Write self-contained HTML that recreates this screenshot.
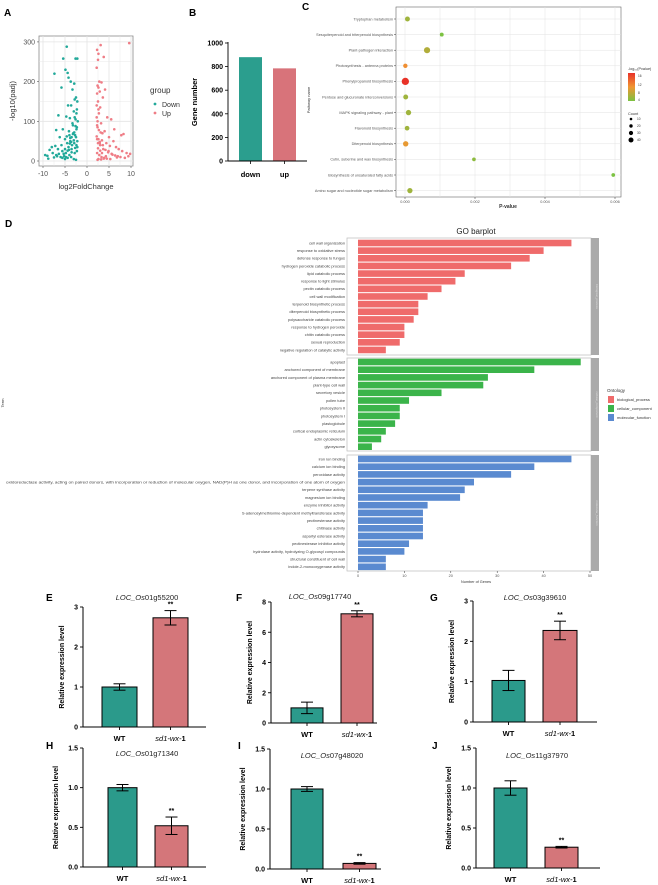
<!DOCTYPE html>
<html><head><meta charset="utf-8"><style>
html,body{margin:0;padding:0;background:#fff}
svg{display:block}
text{font-family:"Liberation Sans",Arial,sans-serif}
</style></head><body>
<svg id="fig" width="658" height="885" viewBox="0 0 658 885" xmlns="http://www.w3.org/2000/svg">
<g id="gA"></g>
<g id="gB"></g>
<g id="gC"></g>
<g id="gD"></g>
<g id="gE"></g>
</svg>
<script>
// ---------- Panel A data ----------
const downX=[-4.6,-5.4,-2.6,-2.2,-7.4,-4.9,-4.4,-4.2,-3.7,-2.9,-5.8,-3.3,-2.5,-2.8,-3.6,-4.3,-2.3,-3.0,-6.5,-4.7,-3.9,-2.6,-7.0,-5.5,-4.1,-2.4,-3.2,-6.2,-5.0,-3.5,-2.7,-8.0,-7.2,-6.6,-5.8,-4.5,-3.8,-9.5,-9.0,-8.5,-7.8,-7.0,-6.4,-5.6,-5.0,-4.2,-3.4,-2.9,-2.2,-6.0,-5.2,-4.4,-3.6,-2.8,-2.3,-3.0,-4.0,-5.0,-2.5,-3.5,-4.8,-2.1,-2.4,-3.1,-2.2,-2.6,-3.3,-4.0,-4.6,-3.8,-2.9,-2.4,-3.5,-4.1,-2.7,-5.3,-6.8,-7.5,-8.8,-2.2,-2.5,-3.0,-3.9,-4.4,-2.3,-2.8,-3.2,-3.6,-4.8,-5.6];
const downY=[288,258,258,258,220,230,222,210,200,195,185,180,160,155,140,140,130,125,115,112,108,105,78,80,75,80,90,60,55,60,65,35,38,30,40,45,50,15,13,28,20,15,18,25,30,35,40,45,50,10,12,8,10,20,25,5,15,5,3,30,20,100,120,70,150,88,95,65,62,58,72,40,22,28,33,18,12,9,6,35,60,52,44,26,85,110,68,48,10,8];
const upX=[3.1,9.6,2.3,2.6,2.5,3.8,2.2,2.8,3.3,2.4,4.1,2.6,2.9,2.3,3.6,2.5,2.2,3.0,4.6,2.7,5.5,2.4,3.2,6.2,2.3,4.0,3.5,7.8,8.3,5.0,6.0,2.6,2.9,3.4,4.4,5.2,6.6,7.2,8.0,9.0,9.8,2.2,2.5,3.0,3.7,4.2,4.8,5.6,6.4,7.0,7.6,8.6,9.4,2.3,2.8,3.3,3.9,4.5,5.3,2.4,2.7,3.1,2.2,2.6,3.6,4.9,5.8,6.8,2.5,3.0,3.4,2.3,2.9,4.3,2.4,2.6,3.2,3.8];
const upY=[292,297,280,270,255,262,235,200,198,190,180,185,175,170,160,150,140,135,110,120,105,100,95,80,90,75,70,65,68,60,50,55,48,52,45,38,35,30,25,20,18,62,45,40,30,28,22,18,14,12,10,8,12,20,15,10,8,6,5,85,78,72,110,130,40,25,16,9,32,26,20,55,45,12,3,5,4,6];

// ---------- Panel B data ----------
const bCats=["down","up"];
const bVals=[880,785];
const bTicks=[0,200,400,600,800,1000];

// ---------- Panel C data ----------
const cPathways=["Tryptophan metabolism","Sesquiterpenoid and triterpenoid biosynthesis","Plant-pathogen interaction","Photosynthesis - antenna proteins","Phenylpropanoid biosynthesis","Pentose and glucuronate interconversions","MAPK signaling pathway - plant","Flavonoid biosynthesis","Diterpenoid biosynthesis","Cutin, suberine and wax biosynthesis","Biosynthesis of unsaturated fatty acids","Amino sugar and nucleotide sugar metabolism"];
const cPvals=[0.00007,0.00105,0.00063,0.00001,0.00001,0.00002,0.0001,0.00006,0.00002,0.00197,0.00595,0.00014];
const cCounts=[12,5,25,8,40,12,16,10,16,4,4,15];
const cLogP=[5,3,6,10,16,5,5,5,9,4,3,5];
const cXTicks=[0,0.002,0.004,0.006];
const cXTickLabels=["0.000","0.002","0.004","0.006"];

// ---------- Panel D data ----------
const bpTerms=["cell wall organization","response to oxidative stress","defense response to fungus","hydrogen peroxide catabolic process","lipid catabolic process","response to light stimulus","pectin catabolic process","cell wall modification","terpenoid biosynthetic process","diterpenoid biosynthetic process","polysaccharide catabolic process","response to hydrogen peroxide","chitin catabolic process","sexual reproduction","negative regulation of catalytic activity"];
const bpVals=[46,40,37,33,23,21,18,15,13,13,12,10,10,9,6];
const ccTerms=["apoplast","anchored component of membrane","anchored component of plasma membrane","plant-type cell wall","secretory vesicle","pollen tube","photosystem II","photosystem I","plastoglobule","cortical endoplasmic reticulum","actin cytoskeleton","glyoxysome"];
const ccVals=[48,38,28,27,18,11,9,9,8,6,5,3];
const mfTerms=["iron ion binding","calcium ion binding","peroxidase activity","oxidoreductase activity, acting on paired donors, with incorporation or reduction of molecular oxygen, NAD(P)H as one donor, and incorporation of one atom of oxygen","terpene synthase activity","magnesium ion binding","enzyme inhibitor activity","S-adenosylmethionine-dependent methyltransferase activity","pectinesterase activity","chitinase activity","aspartyl esterase activity","pectinesterase inhibitor activity","hydrolase activity, hydrolyzing O-glycosyl compounds","structural constituent of cell wall","indole-2-monooxygenase activity"];
const mfVals=[46,38,33,25,23,22,15,14,14,14,14,11,10,6,6];
const dTicks=[0,10,20,30,40,50];

// ---------- Panels E-J data ----------
const qGenes=["01g55200","09g17740","03g39610","01g71340","07g48020","11g37970"];
const qLetters=["E","F","G","H","I","J"];
const qWT=[1.0,1.0,1.03,1.0,1.0,1.0];
const qWTErr=[0.08,0.38,0.25,0.04,0.03,0.09];
const qMut=[2.73,7.22,2.27,0.52,0.07,0.26];
const qMutErr=[0.18,0.2,0.23,0.11,0.01,0.01];
const qMax=[3,8,3,1.5,1.5,1.5];
const qTicks=[[0,1,2,3],[0,2,4,6,8],[0,1,2,3],[0,0.5,1,1.5],[0,0.5,1,1.5],[0,0.5,1,1.5]];

const NS="http://www.w3.org/2000/svg";
function mk(parent,tag,attrs,txt){const e=document.createElementNS(NS,tag);for(const k in attrs)e.setAttribute(k,attrs[k]);if(txt!==undefined)e.textContent=txt;parent.appendChild(e);return e;}

// ===== Panel A =====
(function(){
const g=document.getElementById('gA');
const X=v=>87+v*4.4, Y=v=>161-v*0.397;
let t=mk(g,'text',{x:4,y:16,'font-size':10,'font-weight':'bold'},'A');


mk(g,'rect',{x:39,y:36,width:94,height:130,fill:'#fff',stroke:'#8a8a8a','stroke-width':0.8});
[-10,-7.5,-5,-2.5,0,2.5,5,7.5,10].forEach(v=>mk(g,'line',{x1:X(v),x2:X(v),y1:36,y2:166,stroke:'#e4e4e4','stroke-width':v%5===0?0.8:0.4}));
[0,50,100,150,200,250,300].forEach(v=>mk(g,'line',{x1:39,x2:133,y1:Y(v),y2:Y(v),stroke:'#e4e4e4','stroke-width':v%100===0?0.8:0.4}));
downX.forEach((v,i)=>{const c=mk(g,'circle',{cx:X(v),cy:Y(downY[i]),r:1.3,fill:'#22a99a'});

});
upX.forEach((v,i)=>{const c=mk(g,'circle',{cx:X(v),cy:Y(upY[i]),r:1.3,fill:'#ef7d86'});

});
[-10,-5,0,5,10].forEach(v=>{mk(g,'line',{x1:X(v),x2:X(v),y1:166,y2:168,stroke:'#555','stroke-width':0.6});mk(g,'text',{x:X(v),y:176,'font-size':7,'text-anchor':'middle',fill:'#555'},String(v));});
[0,100,200,300].forEach(v=>{mk(g,'line',{x1:37,x2:39,y1:Y(v),y2:Y(v),stroke:'#555','stroke-width':0.6});mk(g,'text',{x:35,y:Y(v)+2.5,'font-size':7,'text-anchor':'end',fill:'#555'},String(v));});
t=mk(g,'text',{x:86,y:189,'font-size':7.5,'text-anchor':'middle',fill:'#333'},'log2FoldChange');


t=mk(g,'text',{x:0,y:0,'font-size':7.5,'text-anchor':'middle',fill:'#333',transform:'translate(15,101) rotate(-90)'},'-log10(padj)');


mk(g,'text',{x:150,y:93,'font-size':8,fill:'#333'},'group');
mk(g,'circle',{cx:155,cy:104,r:1.4,fill:'#22a99a'});
mk(g,'text',{x:162,y:107,'font-size':7,fill:'#333'},'Down');
mk(g,'circle',{cx:155,cy:113,r:1.4,fill:'#ef7d86'});
mk(g,'text',{x:162,y:116,'font-size':7,fill:'#333'},'Up');
})();

// ===== Panel B =====
(function(){
const g=document.getElementById('gB');
const Y=v=>161-v*0.118;
const bx=[239,273], bw=23, cols=['#2b9e8e','#d8737a'];
let t=mk(g,'text',{x:189,y:16,'font-size':10,'font-weight':'bold'},'B');


bVals.forEach((v,i)=>{const r=mk(g,'rect',{x:bx[i],y:Y(v),width:bw,height:161-Y(v),fill:cols[i]});


mk(g,'line',{x1:bx[i]+bw/2,x2:bx[i]+bw/2,y1:161,y2:164,stroke:'#000','stroke-width':0.8});
mk(g,'text',{x:bx[i]+bw/2,y:177,'font-size':7.5,'font-weight':'bold','text-anchor':'middle'},bCats[i]);});
mk(g,'line',{x1:228,x2:228,y1:42,y2:161,stroke:'#000','stroke-width':0.9});
mk(g,'line',{x1:228,x2:307,y1:161,y2:161,stroke:'#000','stroke-width':0.9});
bTicks.forEach(v=>{mk(g,'line',{x1:225,x2:228,y1:Y(v),y2:Y(v),stroke:'#000','stroke-width':0.8});mk(g,'text',{x:223,y:Y(v)+2.5,'font-size':7,'font-weight':'bold','text-anchor':'end'},String(v));});
t=mk(g,'text',{x:0,y:0,'font-size':7.5,'font-weight':'bold','text-anchor':'middle',transform:'translate(197,102) rotate(-90)'},'Gene number');


})();

// ===== Panel C =====
(function(){
const g=document.getElementById('gC');
const X=p=>405+p/0.006*210, Y=i=>19+i*15.6;
let t=mk(g,'text',{x:302,y:10,'font-size':10,'font-weight':'bold'},'C');


mk(g,'rect',{x:396,y:7,width:225,height:190,fill:'#fff',stroke:'#666','stroke-width':0.6});
[0,0.001,0.002,0.003,0.004,0.005,0.006].forEach(v=>mk(g,'line',{x1:X(v),x2:X(v),y1:7,y2:197,stroke:'#e2e2e2','stroke-width':0.5}));
cPathways.forEach((p,i)=>{mk(g,'line',{x1:396,x2:621,y1:Y(i),y2:Y(i),stroke:'#e2e2e2','stroke-width':0.5});
mk(g,'line',{x1:394,x2:396,y1:Y(i),y2:Y(i),stroke:'#333','stroke-width':0.5});
mk(g,'text',{x:393,y:Y(i)+1.3,'font-size':3.8,'text-anchor':'end',fill:'#555'},p);});
function col(v){const t=Math.min(1,Math.max(0,(v-3)/13));let r,gg,b;if(t<0.5){const s=t/0.5;r=124+(240-124)*s;gg=194+(150-194)*s;b=66+(50-66)*s;}else{const s=(t-0.5)/0.5;r=240+(232-240)*s;gg=150+(50-150)*s;b=50+(40-50)*s;}return `rgb(${r|0},${gg|0},${b|0})`;}
cPvals.forEach((p,i)=>{const c=mk(g,'circle',{cx:X(p),cy:Y(i),r:1+Math.sqrt(cCounts[i])*0.42,fill:col(cLogP[i])});

});
cXTicks.forEach((v,i)=>{mk(g,'line',{x1:X(v),x2:X(v),y1:197,y2:199,stroke:'#333','stroke-width':0.5});mk(g,'text',{x:X(v),y:203,'font-size':3.8,'text-anchor':'middle',fill:'#555'},cXTickLabels[i]);});
mk(g,'text',{x:508,y:208,'font-size':5,'font-weight':'bold','text-anchor':'middle',fill:'#333'},'P-value');
mk(g,'text',{x:0,y:0,'font-size':4,'text-anchor':'middle',fill:'#333',transform:'translate(310,100) rotate(-90)'},'Pathway name');
const gr=mk(g,'defs',{});const lg=mk(gr,'linearGradient',{id:'cgrad',x1:0,y1:0,x2:0,y2:1});
mk(lg,'stop',{offset:'0',"stop-color":'#e8322a'});mk(lg,'stop',{offset:'0.5',"stop-color":'#f09632'});mk(lg,'stop',{offset:'1',"stop-color":'#7cc242'});
mk(g,'text',{x:628,y:70,'font-size':3.8,fill:'#333'},'-log\u2081\u2080(Pvalue)');
mk(g,'rect',{x:628,y:73,width:7,height:28,fill:'url(#cgrad)'});
[['16',76],['12',85],['8',93],['4',100]].forEach(a=>mk(g,'text',{x:638,y:a[1]+1,'font-size':3.2,fill:'#333'},a[0]));
mk(g,'text',{x:628,y:115,'font-size':3.8,fill:'#333'},'Count');
[[10,1.3,119],[20,1.7,126],[30,2.1,133],[40,2.5,140]].forEach(a=>{mk(g,'circle',{cx:631,cy:a[2],r:a[1],fill:'#000'});mk(g,'text',{x:637,y:a[2]+1.2,'font-size':3.2,fill:'#333'},String(a[0]));});
})();

// ===== Panel D =====
(function(){
const g=document.getElementById('gD');
const X=v=>358+v*4.64;
let t=mk(g,'text',{x:5,y:227,'font-size':10,'font-weight':'bold'},'D');


t=mk(g,'text',{x:476,y:234,'font-size':8,'text-anchor':'middle',fill:'#222'},'GO barplot');


const facets=[[bpTerms,bpVals,238,355,243,7.64,'#ef6b6b','biological_process'],[ccTerms,ccVals,358,451,362,7.7,'#3bb44a','cellular_component'],[mfTerms,mfVals,455,571,459,7.7,'#5a8ad0','molecular_function']];
facets.forEach(f=>{const [terms,vals,y0,y1,r0,sp,c,name]=f;
mk(g,'rect',{x:347,y:y0,width:244,height:y1-y0,fill:'#fff',stroke:'#bbb','stroke-width':0.7});
mk(g,'rect',{x:591,y:y0,width:8,height:y1-y0,fill:'#aaa'});
mk(g,'text',{x:0,y:0,'font-size':3,'text-anchor':'middle',fill:'#ddd',transform:`translate(596,${(y0+y1)/2}) rotate(90)`},name);
terms.forEach((term,i)=>{const y=r0+i*sp;
const r=mk(g,'rect',{x:X(0),y:y-3.3,width:X(vals[i])-X(0),height:6.6,fill:c});


const a={x:345,y:y+1.4,'font-size':3.9,'text-anchor':'end',fill:'#444'};
if(term.length>100){a.textLength=339;a.lengthAdjust='spacingAndGlyphs';}
mk(g,'text',a,term);});});
dTicks.forEach(v=>{mk(g,'line',{x1:X(v),x2:X(v),y1:571,y2:573,stroke:'#333','stroke-width':0.5});mk(g,'text',{x:X(v),y:577,'font-size':3.8,'text-anchor':'middle',fill:'#555'},String(v));});
mk(g,'text',{x:476,y:583,'font-size':3.8,'text-anchor':'middle',fill:'#333'},'Number of Genes');
mk(g,'text',{x:0,y:0,'font-size':4,'text-anchor':'middle',fill:'#333',transform:'translate(4,403) rotate(-90)'},'Term');
mk(g,'text',{x:607,y:392,'font-size':4.5,fill:'#333'},'Ontology');
[['#ef6b6b','biological_process',396],['#3bb44a','cellular_component',405],['#5a8ad0','molecular_function',414]].forEach(a=>{
const r=mk(g,'rect',{x:608,y:a[2],width:6,height:7,fill:a[0]});


mk(g,'text',{x:617,y:a[2]+5,'font-size':4,fill:'#333'},a[1]);});
})();

// ===== Panels E-J =====
(function(){
const root=document.getElementById('gE');
const L=[
 {lx:46,ly:601,ax:83,top:607,y0:727,end:206,b1:[102,137],b2:[153,188],tx:147,ty:600},
 {lx:236,ly:601,ax:271,top:602,y0:723,end:377,b1:[291,323],b2:[341,373],tx:320,ty:599},
 {lx:430,ly:601,ax:473,top:601,y0:722,end:597,b1:[492,525],b2:[543,577],tx:535,ty:600},
 {lx:46,ly:749,ax:83,top:748,y0:867,end:206,b1:[108,137],b2:[155,188],tx:147,ty:756},
 {lx:238,ly:749,ax:270,top:749,y0:869,end:381,b1:[291,323],b2:[343,376],tx:332,ty:758},
 {lx:432,ly:749,ax:476,top:748,y0:868,end:600,b1:[494,527],b2:[545,578],tx:537,ty:758}];
qGenes.forEach((gene,k)=>{const l=L[k];
const g=mk(root,'g',{});


const Y=v=>l.y0-(v/qMax[k])*(l.y0-l.top);
mk(g,'text',{x:l.lx,y:l.ly,'font-size':10,'font-weight':'bold'},qLetters[k]);
const tt=mk(g,'text',{x:l.tx,y:l.ty,'font-size':7.5,'text-anchor':'middle',fill:'#222'});
mk(tt,'tspan',{'font-style':'italic'},'LOC_Os');mk(tt,'tspan',{},gene);
const bars=[[l.b1,qWT[k],qWTErr[k],'#2b9a8b','wt'],[l.b2,qMut[k],qMutErr[k],'#d4767a','mutant']];
bars.forEach(b=>{const [xx,v,e,c,nm]=b;const cx=(xx[0]+xx[1])/2;
const r=mk(g,'rect',{x:xx[0],y:Y(v),width:xx[1]-xx[0],height:l.y0-Y(v),fill:c,stroke:'#000','stroke-width':1});


mk(g,'line',{x1:cx,x2:cx,y1:Y(v+e),y2:Y(Math.max(0,v-e)),stroke:'#000','stroke-width':1});
mk(g,'line',{x1:cx-6,x2:cx+6,y1:Y(v+e),y2:Y(v+e),stroke:'#000','stroke-width':1});
if(v-e>0)mk(g,'line',{x1:cx-6,x2:cx+6,y1:Y(v-e),y2:Y(v-e),stroke:'#000','stroke-width':1});
mk(g,'line',{x1:cx,x2:cx,y1:l.y0,y2:l.y0+3,stroke:'#000','stroke-width':0.9});
if(nm==='mutant'){mk(g,'text',{x:cx,y:Y(v+e)-4,'font-size':7,'font-weight':'bold','text-anchor':'middle'},'**');
const xl=mk(g,'text',{x:cx,y:l.y0+14,'font-size':7.5,'text-anchor':'middle'});
mk(xl,'tspan',{'font-style':'italic'},'sd1-wx-');mk(xl,'tspan',{'font-weight':'bold'},'1');}
else mk(g,'text',{x:cx,y:l.y0+14,'font-size':7.5,'font-weight':'bold','text-anchor':'middle'},'WT');});
mk(g,'line',{x1:l.ax,x2:l.ax,y1:l.top,y2:l.y0,stroke:'#000','stroke-width':1});
mk(g,'line',{x1:l.ax,x2:l.end,y1:l.y0,y2:l.y0,stroke:'#000','stroke-width':1});
qTicks[k].forEach(v=>{mk(g,'line',{x1:l.ax-3,x2:l.ax,y1:Y(v),y2:Y(v),stroke:'#000','stroke-width':0.9});
mk(g,'text',{x:l.ax-5,y:Y(v)+2.5,'font-size':7,'font-weight':'bold','text-anchor':'end'},qMax[k]===1.5?v.toFixed(1):String(v));});
const yl=mk(g,'text',{x:0,y:0,'font-size':7,'font-weight':'bold','text-anchor':'middle',transform:`translate(${l.ax-(qMax[k]===1.5?25:19)},${(l.top+l.y0)/2}) rotate(-90)`},'Relative expression level');


});
})();
</script>
</body></html>
